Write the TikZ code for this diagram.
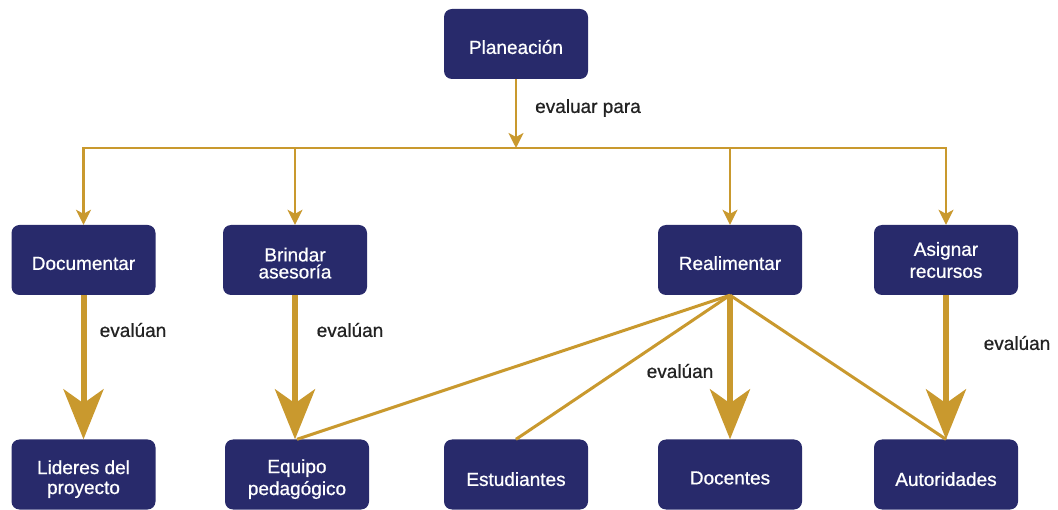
\documentclass[tikz,border=0pt]{standalone}
\usepackage{fontspec}
\setmainfont{Liberation Sans}[FakeBold=0.7]
\usetikzlibrary{arrows.meta}
\definecolor{navy}{HTML}{282A6B}
\definecolor{gold}{HTML}{C9992E}
\definecolor{lblc}{HTML}{222222}
\newcommand\shA{\rule{0pt}{20pt}}
\newcommand\shB{\rule{0pt}{23pt}}
\begin{document}
\begin{tikzpicture}[x=1pt,y=-1pt,
  box/.style={fill=navy, rounded corners=8pt, minimum width=144pt, minimum height=70pt,
    text=white, font=\fontsize{19}{20}\selectfont, align=center, inner sep=0pt},
  thinline/.style={draw=gold, line width=2.5pt},
  thinarrow/.style={thinline, -{Stealth[length=15pt,width=15pt,inset=4pt]}},
  thickarrow/.style={draw=gold, line width=6pt, -{Stealth[length=50pt,width=40pt,inset=14pt]}},
  link/.style={draw=gold, line width=3pt},
  lbl/.style={text=lblc, font=\fontsize{19}{20}\selectfont}]
\useasboundingbox (0,0) rectangle (1058,510);

\node[box] (plan) at (516,44) {\shA Planeación};
\node[box] (doc)  at (83.5,260) {\shA Documentar};
\node[box, font=\fontsize{19}{17}\selectfont] (brin) at (295,260) {\shA Brindar\\asesoría};
\node[box] (real) at (730,260) {\shA Realimentar};
\node[box, font=\fontsize{19}{22}\selectfont] (asig) at (946,260) {Asignar\\recursos};
\node[box] (lid)  at (83.5,474.5) {\shB Lideres del\\proyecto};
\node[box, font=\fontsize{19}{22}\selectfont] (equ) at (297,474.5) {\shB Equipo\\pedagógico};
\node[box] (est)  at (516,474.5) {\shB Estudiantes};
\node[box] (docn) at (730,474.5) {\shA Docentes};
\node[box] (aut)  at (946,474.5) {\shB Autoridades};

\coordinate (bar) at (516,148);
\draw[thinarrow] (plan.south) -- (bar);
\draw[thinline, {Stealth[length=15pt,width=15pt,inset=4pt]}-{Stealth[length=15pt,width=15pt,inset=4pt]}]
  (doc.north) -- (doc.north |- bar) -- (asig.north |- bar) -- (asig.north);
\draw[thinarrow] (brin.north |- bar) -- (brin.north);
\draw[thinarrow] (real.north |- bar) -- (real.north);

\draw[thickarrow] (doc.south) -- (lid.north);
\draw[thickarrow] (brin.south) -- (brin.south |- equ.north);
\draw[thickarrow] (real.south) -- (docn.north);
\draw[thickarrow] (asig.south) -- (aut.north);

\draw[link] (real.south) -- (equ.north);
\draw[link] (real.south) -- (est.north);
\draw[link] (real.south) -- (aut.north);

\node[lbl] (l0) at (588,108) {evaluar para};
\node[lbl] (l1) at (133,330) {evalúan};
\node[lbl] (l2) at (350,330) {evalúan};
\node[lbl] (l3) at (680,371) {evalúan};
\node[lbl] (l4) at (1017,343) {evalúan};
\end{tikzpicture}
\end{document}
